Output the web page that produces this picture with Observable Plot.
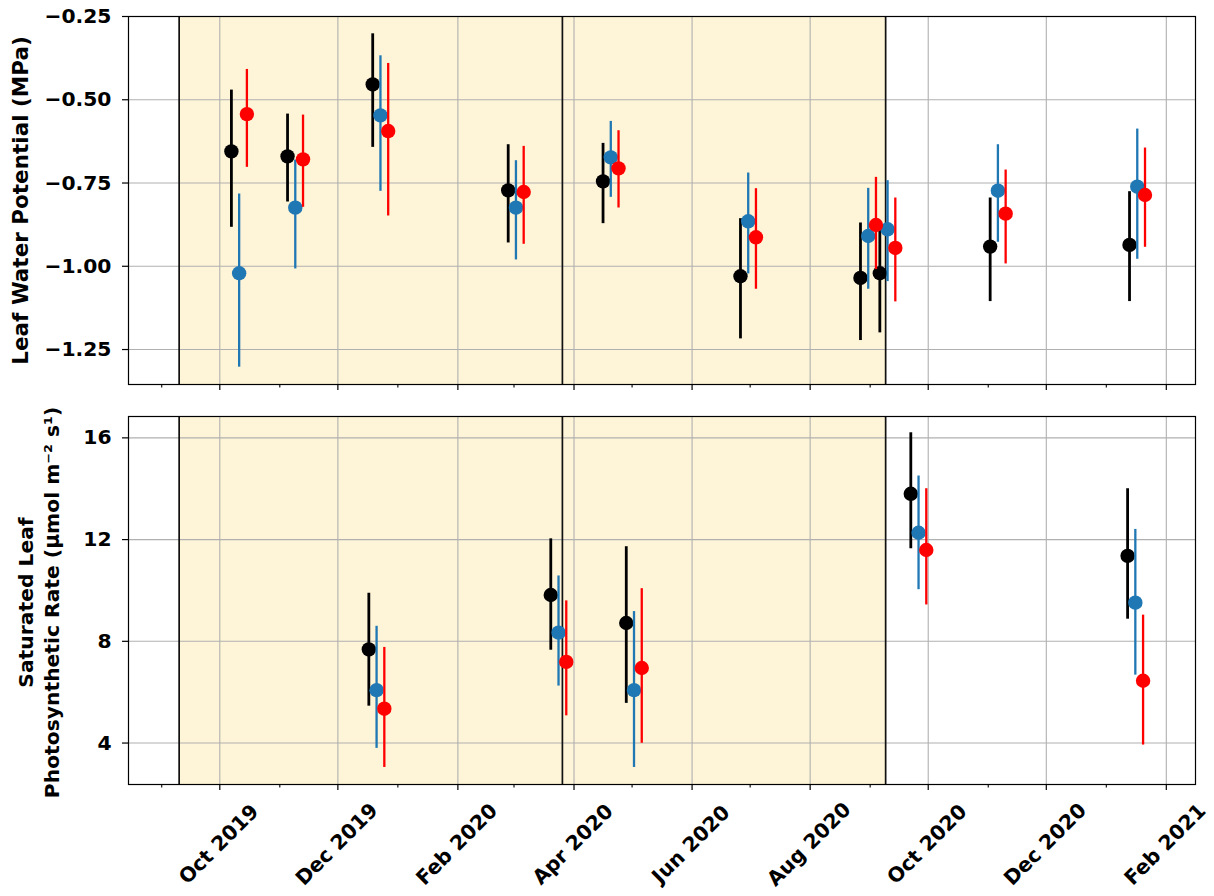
<!DOCTYPE html>
<html>
<head>
<meta charset="utf-8">
<script src="https://cdn.jsdelivr.net/npm/d3@7"></script>
<script src="https://cdn.jsdelivr.net/npm/@observablehq/plot@0.6"></script>
<style>
  html, body { margin: 0; padding: 0; background: #fff; overflow: hidden; }
  #chart { width: 1214px; height: 896px; }
  #chart svg { display: block; }
</style>
</head>
<body>
<div id="chart"></div>
<script>
// ---- Shared time axis ------------------------------------------------------
const majorTickDates = ["2019-10-01", "2019-12-01", "2020-02-01", "2020-04-01", "2020-06-01",
                        "2020-08-01", "2020-10-01", "2020-12-01", "2021-02-01"];
const majorTickLabels = ["Oct 2019", "Dec 2019", "Feb 2020", "Apr 2020", "Jun 2020",
                         "Aug 2020", "Oct 2020", "Dec 2020", "Feb 2021"];
const minorTickDates = ["2019-09-01", "2019-11-01", "2020-01-01", "2020-03-01", "2020-05-01",
                        "2020-07-01", "2020-09-01", "2020-11-01", "2021-01-01"];
const timeDomain = ["2019-08-14T20:00Z", "2021-02-16T02:00Z"];

// Shaded seasons
const seasonStarts = ["2019-09-10", "2020-03-26"];
const seasonEnds = ["2020-03-26", "2020-09-09"];

// ---- Leaf water potential (MPa) ------------------------------------------
const lwpDates = ["2019-10-07", "2019-11-05", "2019-12-19", "2020-02-27", "2020-04-16",
                  "2020-06-26", "2020-08-27", "2020-09-06", "2020-11-02", "2021-01-13"];
const lwpMean = [
  [-0.655, -0.670, -0.454, -0.772, -0.745, -1.030, -1.035, -1.021, -0.941, -0.936],
  [-1.021, -0.824, -0.547, -0.824, -0.673, -0.865, -0.909, -0.889, -0.773, -0.761],
  [-0.543, -0.679, -0.594, -0.777, -0.706, -0.913, -0.876, -0.945, -0.842, -0.786]
];
const lwpLow = [
  [-0.883, -0.807, -0.643, -0.930, -0.872, -1.218, -1.223, -1.200, -1.106, -1.106],
  [-1.303, -1.008, -0.775, -0.981, -0.793, -1.023, -1.069, -1.046, -0.928, -0.979],
  [-0.703, -0.823, -0.849, -0.934, -0.825, -1.069, -1.010, -1.107, -0.993, -0.943]
];
const lwpHigh = [
  [-0.471, -0.543, -0.302, -0.635, -0.631, -0.857, -0.870, -0.870, -0.795, -0.776],
  [-0.783, -0.681, -0.368, -0.683, -0.565, -0.720, -0.766, -0.743, -0.635, -0.588],
  [-0.409, -0.546, -0.391, -0.640, -0.593, -0.767, -0.733, -0.795, -0.711, -0.645]
];
const lwpTicks = [-1.25, -1.00, -0.75, -0.50, -0.25];
const lwpDomain = [-1.355, -0.25];

// ---- Saturated leaf photosynthetic rate (µmol m-2 s-1) --------------------
const asatDates = ["2019-12-17", "2020-03-20", "2020-04-28", "2020-09-22", "2021-01-12"];
const asatMean = [
  [7.68, 9.82, 8.72, 13.80, 11.36],
  [6.08, 8.34, 6.08, 12.27, 9.52],
  [5.35, 7.19, 6.95, 11.59, 6.45]
];
const asatLow = [
  [5.45, 7.65, 5.56, 11.64, 8.87],
  [3.79, 6.24, 3.04, 10.03, 6.67],
  [3.04, 5.07, 3.99, 9.43, 3.92]
];
const asatHigh = [
  [9.89, 12.03, 11.72, 16.20, 14.00],
  [8.59, 10.57, 9.17, 14.50, 12.40],
  [7.76, 9.59, 10.07, 14.00, 9.03]
];
const asatTicks = [4, 8, 12, 16];
const asatDomain = [2.37, 16.84];

// ---- Styling ---------------------------------------------------------------
const seriesColors = ["#000000", "#1f77b4", "#ff0000"];
const seriesWidths = [2.8, 2.3, 2.3];
const seriesShiftDays = [0, 4, 8];   // side-by-side placement of the three series
const seasonFill = "#fef4d7";
const gridColor = "#b0b0b0";
const TICK_FONT = 20.3;
const LABEL_FONT = 21.5;

const day = 864e5;
const toDate = (s) => new Date(s);

function seriesRows(dates, mean, low, high) {
  return mean.map((vals, s) => vals.map((v, j) => ({
    date: new Date(+toDate(dates[j]) + seriesShiftDays[s] * day),
    mean: v, low: low[s][j], high: high[s][j]
  })));
}

function panel({rows, yDomain, yTicks, yFormat, height, marginTop, marginBottom, extra}) {
  const marks = [
    Plot.rect(seasonStarts.map((s, i) => i), {
      x1: (i) => toDate(seasonStarts[i]), x2: (i) => toDate(seasonEnds[i]), fill: seasonFill
    }),
    Plot.gridX({ticks: majorTickDates.map(toDate), stroke: gridColor, strokeOpacity: 1, strokeWidth: 1.1}),
    Plot.gridY({ticks: yTicks, stroke: gridColor, strokeOpacity: 1, strokeWidth: 1.1}),
    Plot.ruleX([...new Set([...seasonStarts, ...seasonEnds])].map(toDate), {stroke: "#111", strokeWidth: 1.7}),
    Plot.axisY({ticks: yTicks, tickFormat: yFormat, tickSize: 6, tickPadding: 11, strokeWidth: 1.2,
                label: null, fontSize: TICK_FONT, fontWeight: "bold"}),
    Plot.axisX({ticks: majorTickDates.map(toDate), tickSize: 6, strokeWidth: 1.2, fill: "none", label: null}),
    Plot.axisX({ticks: minorTickDates.map(toDate), tickSize: 3.5, strokeWidth: 1.1, fill: "none", label: null})
  ];
  rows.forEach((data, s) => {
    marks.push(Plot.ruleX(data, {x: "date", y1: "low", y2: "high", stroke: seriesColors[s], strokeWidth: seriesWidths[s]}));
    marks.push(Plot.dot(data, {x: "date", y: "mean", r: 7.2, fill: seriesColors[s], stroke: "none"}));
  });
  marks.push(...extra);
  marks.push(Plot.frame({stroke: "#000", strokeWidth: 1.2}));
  return Plot.plot({
    width: 1214,
    height,
    marginLeft: 128,
    marginRight: 19,
    marginTop,
    marginBottom,
    style: {fontFamily: "DejaVu Sans", fontSize: TICK_FONT + "px", fontWeight: "bold", background: "#fff", overflow: "visible"},
    x: {type: "utc", domain: timeDomain.map(toDate)},
    y: {domain: yDomain},
    marks
  });
}

const waterPanel = panel({
  rows: seriesRows(lwpDates, lwpMean, lwpLow, lwpHigh),
  yDomain: lwpDomain,
  yTicks: lwpTicks,
  yFormat: d3.format(".2f"),
  height: 400,
  marginTop: 16,
  marginBottom: 16,
  extra: [
    Plot.text(["Leaf Water Potential (MPa)"], {
      text: (d) => d, frameAnchor: "left", rotate: -90, dx: -107,
      textAnchor: "middle", lineAnchor: "middle", fontWeight: "bold", fontSize: LABEL_FONT
    })
  ]
});

const photoPanel = panel({
  rows: seriesRows(asatDates, asatMean, asatLow, asatHigh),
  yDomain: asatDomain,
  yTicks: asatTicks,
  yFormat: d3.format("d"),
  height: 496,
  marginTop: 16,
  marginBottom: 112,
  extra: [
    Plot.text(["Saturated Leaf\nPhotosynthetic Rate (μmol m⁻² s¹)"], {
      text: (d) => d, frameAnchor: "left", rotate: -90, dx: -91, dy: 2,
      textAnchor: "middle", lineAnchor: "middle", lineHeight: 1.3, fontWeight: "bold", fontSize: 20.3
    }),
    Plot.text(majorTickLabels.map((d, i) => i), {
      x: (i) => toDate(majorTickDates[i]), text: (i) => majorTickLabels[i],
      frameAnchor: "bottom", rotate: -45, textAnchor: "middle", lineAnchor: "middle",
      dx: -1, dy: 60, fontWeight: "bold", fontSize: TICK_FONT
    })
  ]
});

document.getElementById("chart").append(waterPanel, photoPanel);
</script>
</body>
</html>
